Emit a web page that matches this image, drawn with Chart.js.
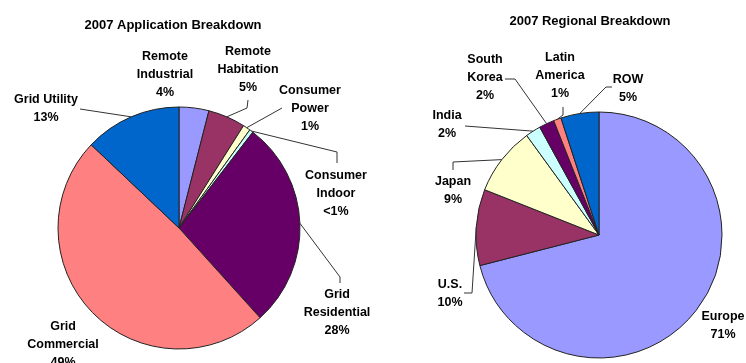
<!DOCTYPE html>
<html>
<head>
<meta charset="utf-8">
<title>2007 Breakdown</title>
<script src="https://cdn.jsdelivr.net/npm/chart.js@4"></script>
<style>
    html, body { margin: 0; padding: 0; background: #fff; }
    .wrap { position: relative; width: 746px; height: 363px; overflow: hidden; }
    .wrap canvas { position: absolute; top: 0; }
    #appChart { left: 0; }
    #regionChart { left: 373px; }
</style>
</head>
<body>
<div class="wrap">
    <canvas id="appChart" width="373" height="363"></canvas>
    <canvas id="regionChart" width="373" height="363"></canvas>
</div>
<script>
// --- Data ---
const appCategories = ['Remote\nIndustrial', 'Remote\nHabitation', 'Consumer\nPower', 'Consumer\nIndoor', 'Grid\nResidential', 'Grid\nCommercial', 'Grid Utility'];
const appShares = [4, 5, 1, 0.5, 28, 49, 13];

const regionCategories = ['Europe', 'U.S.', 'Japan', 'India', 'South\nKorea', 'Latin\nAmerica', 'ROW'];
const regionShares = [71, 10, 9, 2, 2, 1, 5];

const sliceColors = ['#9999FF', '#993366', '#FFFFCC', '#CCFFFF', '#660066', '#FF8080', '#0066CC'];

// --- Label placement (text anchor + leader elbow points, canvas px) ---
const appSpots = [
    { x: 165, y: 57 },
    { x: 248, y: 52, leader: [[248, 100], [247, 108]] },
    { x: 310, y: 91, leader: [[282, 108]] },
    { x: 336, y: 176, leader: [[337, 163], [337, 152]] },
    { x: 337, y: 295, leader: [[340, 283], [340, 277]] },
    { x: 63, y: 327 },
    { x: 46, y: 100, leader: [[80, 109]] }
];

const regionSpots = [
    { x: 350, y: 317 },
    { x: 77, y: 285, leader: [[91, 293], [99, 293]] },
    { x: 80, y: 182, leader: [[80, 170], [80, 162]] },
    { x: 74, y: 116, leader: [[92, 126]] },
    { x: 112, y: 60, leader: [[132, 79], [142, 79]] },
    { x: 187, y: 58, leader: [[190, 107], [190, 115]] },
    { x: 255, y: 80, leader: [[239, 87], [233, 87]] }
];

const FONT = '"Liberation Sans", Arial, sans-serif';

function pctText(v) {
    return v < 1 ? '<1%' : `${v}%`;
}

// Title, slice labels and leader lines drawn on top of the pie
function makeCallouts(title, titleX, titleY, spots) {
    return {
        id: 'callouts',
        afterDatasetsDraw(chart) {
            const ctx = chart.ctx;
            const meta = chart.getDatasetMeta(0);
            const values = chart.data.datasets[0].data;

            ctx.save();
            ctx.fillStyle = '#000';
            ctx.textAlign = 'center';
            ctx.textBaseline = 'middle';
            ctx.font = `bold 13px ${FONT}`;
            ctx.fillText(title, titleX, titleY);

            ctx.strokeStyle = '#333';
            ctx.lineWidth = 1;
            ctx.font = `bold 12.5px ${FONT}`;

            spots.forEach((spot, i) => {
                const arc = meta.data[i];
                const { x, y, startAngle, endAngle, outerRadius } =
                    arc.getProps(['x', 'y', 'startAngle', 'endAngle', 'outerRadius'], true);
                const mid = (startAngle + endAngle) / 2;

                if (spot.leader) {
                    ctx.beginPath();
                    ctx.moveTo(spot.leader[0][0], spot.leader[0][1]);
                    spot.leader.slice(1).forEach(p => ctx.lineTo(p[0], p[1]));
                    ctx.lineTo(x + Math.cos(mid) * outerRadius, y + Math.sin(mid) * outerRadius);
                    ctx.stroke();
                }

                const lines = chart.data.labels[i].split('\n').concat(pctText(values[i]));
                lines.forEach((t, k) => ctx.fillText(t, spot.x, spot.y + k * 18));
            });
            ctx.restore();
        }
    };
}

function buildPie(canvasId, labels, values, radius, padding, callouts) {
    return new Chart(document.getElementById(canvasId), {
        type: 'pie',
        data: {
            labels: labels,
            datasets: [{
                data: values,
                backgroundColor: sliceColors,
                borderColor: '#222',
                borderWidth: 1,
                radius: radius
            }]
        },
        options: {
            responsive: false,
            animation: false,
            events: [],
            layout: { padding: padding },
            plugins: {
                legend: { display: false },
                tooltip: { enabled: false }
            }
        },
        plugins: [callouts]
    });
}

// --- Charts ---
buildPie('appChart', appCategories, appShares, 121,
    { left: 0, right: 15, top: 93, bottom: 0 },
    makeCallouts('2007 Application Breakdown', 173, 25, appSpots));

buildPie('regionChart', regionCategories, regionShares, 123,
    { left: 79, right: 0, top: 107, bottom: 0 },
    makeCallouts('2007 Regional Breakdown', 217, 21, regionSpots));
</script>
</body>
</html>
